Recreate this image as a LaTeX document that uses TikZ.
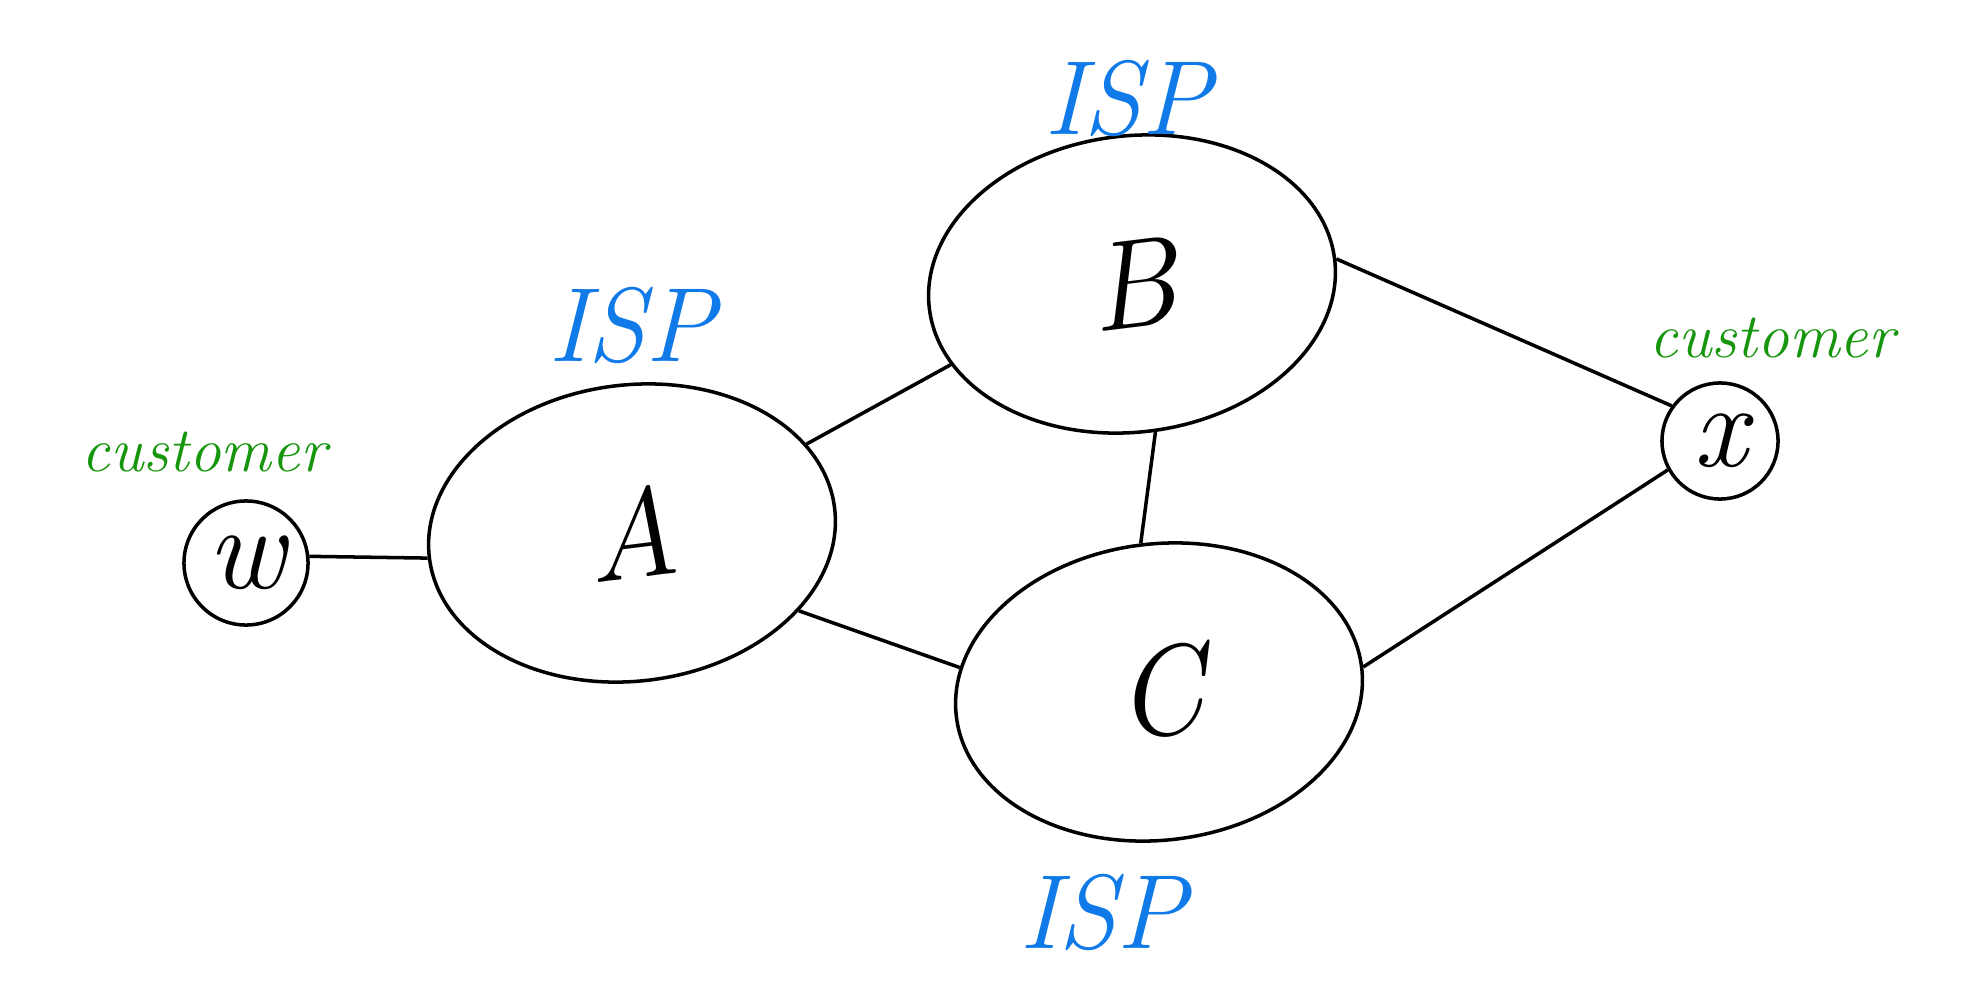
\documentclass[tikz,border=0pt]{standalone}
\usepackage{tikz}
\usepackage{xcolor}
\usetikzlibrary{shapes.geometric}
\usetikzlibrary{positioning}

\definecolor{ispblue}{RGB}{16,122,232}
\definecolor{custgreen}{RGB}{22,150,12}

\tikzset{
  net/.style={draw=black,line width=1pt,ellipse,rotate=7,minimum width=4.08cm,minimum height=2.96cm,font=\fontsize{36}{40}\selectfont\itshape},
  host/.style={draw=black,line width=1pt,circle,inner sep=0pt,font=\fontsize{34}{40}\selectfont\itshape},
  isp/.style={text=ispblue,font=\fontsize{30}{34}\selectfont\itshape},
  cust/.style={text=custgreen,font=\fontsize{18}{22}\selectfont\itshape},
  link/.style={draw=black,line width=1pt}
}

\begin{document}
\begin{tikzpicture}[x=0.01cm,y=-0.01cm]
\useasboundingbox (0,0) rectangle (1981,1000);
\coordinate (pw) at (246,563);
\coordinate (pa) at (632,533);
\coordinate (pb) at (1132,284);
\coordinate (pc) at (1159,692);
\coordinate (px) at (1720,441);

  % networks and hosts
  \node (w) at (pw) [host,minimum size=1.24cm] {w};
  \node (A) at (pa) [net] {A};
  \node (B) at (pb) [net] {B};
  \node (C) at (pc) [net] {C};
  \node (x) at (px) [host,minimum size=1.16cm] {x};

  % links
  \draw[link] (w.6) -- (A.west);
  \draw[link] (A.20) -- (B.197);
  \draw[link] (A.-32) -- (C.166);
  \draw[link] (B.-88) -- (C.90);
  \draw[link] (B.east) -- (x.144);
  \draw[link] (C.east) -- (x.209);

  % labels
  \node (ispa) at (632,325) [isp] {ISP};
  \node (ispb) at (1128,98) [isp] {ISP};
  \node (ispc) at (1103,912) [isp] {ISP};
  \node (custw) at (204,452) [cust] {customer};
  \node (custx) at (1772,338) [cust] {customer};
\end{tikzpicture}
\end{document}
